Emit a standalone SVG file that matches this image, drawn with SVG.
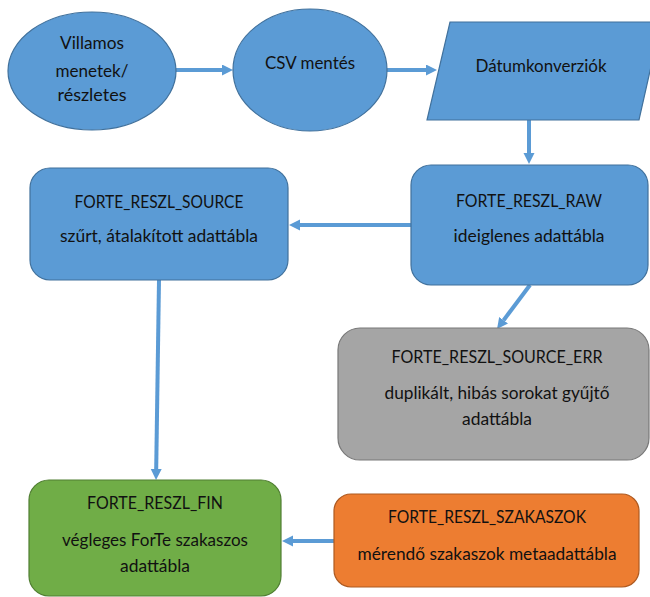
<svg xmlns="http://www.w3.org/2000/svg" width="650" height="597" viewBox="0 0 650 597">
<defs>
<style>
.t{font-family:Lato,"Liberation Sans",sans-serif;font-size:17px;fill:#111;text-anchor:middle}
.blue{fill:#5B9BD5;stroke:#41719C;stroke-width:1.2}
.gray{fill:#A5A5A5;stroke:#787878;stroke-width:1.2}
.green{fill:#70AD47;stroke:#507E32;stroke-width:1.2}
.orange{fill:#ED7D31;stroke:#AE5A21;stroke-width:1.2}
.c{fill:none;stroke:#5B9BD5;stroke-width:4;marker-end:url(#ah)}
</style>
<marker id="ah" markerUnits="userSpaceOnUse" markerWidth="12" markerHeight="12" refX="0" refY="5.5" orient="auto">
<path d="M0,0 L11,5.5 L0,11 z" fill="#5B9BD5"/>
</marker>
</defs>
<rect width="650" height="597" fill="#fff"/>
<g id="connectors">
<path class="c" d="M176,70 L222,70"/>
<path class="c" d="M387,70 L426,70"/>
<path class="c" d="M529,120 L529,153"/>
<path class="c" d="M411,225 L300,225"/>
<path class="c" d="M530,285 L503.6,320.2"/>
<path class="c" d="M159,280 L156.2,469"/>
<path class="c" d="M334,541 L293,541"/>
</g>
<g id="villamos">
<ellipse class="blue" cx="92" cy="71" rx="84" ry="59"/>
<text class="t" x="92" y="49" textLength="64" lengthAdjust="spacingAndGlyphs">Villamos</text>
<text class="t" x="92" y="77" textLength="73" lengthAdjust="spacingAndGlyphs">menetek/</text>
<text class="t" x="92" y="101" textLength="69" lengthAdjust="spacingAndGlyphs">részletes</text>
</g>
<g id="csv">
<ellipse class="blue" cx="310" cy="70" rx="77" ry="61"/>
<text class="t" x="310" y="69" textLength="90" lengthAdjust="spacingAndGlyphs">CSV mentés</text>
</g>
<g id="datum">
<polygon class="blue" points="450,22 661,22 639,120 427,120"/>
<text class="t" x="541" y="72" textLength="131" lengthAdjust="spacingAndGlyphs">Dátumkonverziók</text>
</g>
<g id="raw">
<rect class="blue" x="411" y="165" width="237" height="120" rx="20"/>
<text class="t" x="529" y="207" textLength="146" lengthAdjust="spacingAndGlyphs">FORTE_RESZL_RAW</text>
<text class="t" x="529" y="242" textLength="151" lengthAdjust="spacingAndGlyphs">ideiglenes adattábla</text>
</g>
<g id="source">
<rect class="blue" x="30" y="168" width="258" height="112" rx="20"/>
<text class="t" x="159" y="208" textLength="169" lengthAdjust="spacingAndGlyphs">FORTE_RESZL_SOURCE</text>
<text class="t" x="159" y="242" textLength="198" lengthAdjust="spacingAndGlyphs">szűrt, átalakított adattábla</text>
</g>
<g id="err">
<rect class="gray" x="338" y="328" width="311" height="132" rx="22"/>
<text class="t" x="497" y="363" textLength="211" lengthAdjust="spacingAndGlyphs">FORTE_RESZL_SOURCE_ERR</text>
<text class="t" x="497" y="399" textLength="225" lengthAdjust="spacingAndGlyphs">duplikált, hibás sorokat gyűjtő</text>
<text class="t" x="497" y="425" textLength="70" lengthAdjust="spacingAndGlyphs">adattábla</text>
</g>
<g id="fin">
<rect class="green" x="29" y="480" width="252" height="116" rx="20"/>
<text class="t" x="155" y="509" textLength="136" lengthAdjust="spacingAndGlyphs">FORTE_RESZL_FIN</text>
<text class="t" x="155" y="546" textLength="186" lengthAdjust="spacingAndGlyphs">végleges ForTe szakaszos</text>
<text class="t" x="155" y="572" textLength="70" lengthAdjust="spacingAndGlyphs">adattábla</text>
</g>
<g id="szakaszok">
<rect class="orange" x="334" y="494" width="305" height="93" rx="17"/>
<text class="t" x="487" y="523" textLength="198" lengthAdjust="spacingAndGlyphs">FORTE_RESZL_SZAKASZOK</text>
<text class="t" x="487" y="560" textLength="259" lengthAdjust="spacingAndGlyphs">mérendő szakaszok metaadattábla</text>
</g>
</svg>
